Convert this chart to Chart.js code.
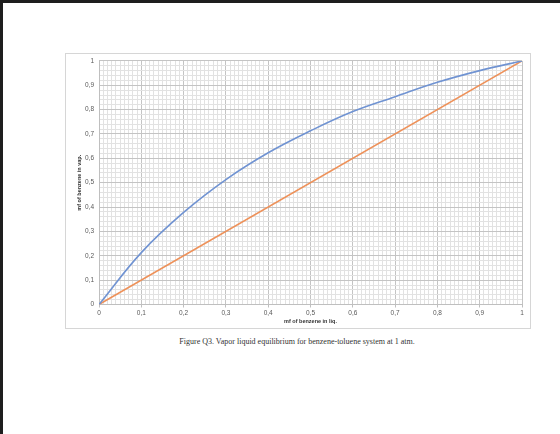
<!DOCTYPE html>
<html>
<head>
<meta charset="utf-8">
<script src="https://cdn.jsdelivr.net/npm/chart.js@4.4.1/dist/chart.umd.min.js"></script>
<style>
    body { margin: 0; background: #1e1e1e; }
    #page { position: absolute; left: 3px; top: 3px; width: 557px; height: 431px; background: #fff; }
    #box { position: absolute; left: 62px; top: 50px; width: 466px; height: 276px; border: 1px solid #d6d6d6; box-sizing: border-box; }
    #myChart { position: absolute; left: 0; top: -2px; }
    #caption { position: absolute; left: 0; width: 588px; top: 334px; text-align: center;
        font-family: "Liberation Serif", "DejaVu Serif", serif; font-size: 8px; color: #333; }
</style>
</head>
<body>
<div id="page">
    <div id="box"><canvas id="myChart" width="464" height="276"></canvas></div>
    <div id="caption">Figure Q3. Vapor liquid equilibrium for benzene-toluene system at 1 atm.</div>
</div>
<script>
// liquid mole fraction of benzene
const liquidX = [0, 0.1, 0.2, 0.3, 0.4, 0.5, 0.6, 0.7, 0.8, 0.9, 1];
// vapour mole fraction
const vapourY = [0, 0.213, 0.378, 0.513, 0.623, 0.713, 0.792, 0.853, 0.912, 0.96, 1];
// 45 degree line
const diagX = [0, 1];
const diagY = [0, 1];

const tickFont = { family: 'Liberation Sans, Arial, sans-serif', size: 6.5 };
const titleFont = { family: 'Liberation Sans, Arial, sans-serif', size: 5.5, weight: 'bold' };

function isMajor(v) {
    return Math.round(v * 100) % 10 === 0;
}

function fmt(v) {
    const r = Math.round(v * 10) / 10;
    if (r === 0) return '0';
    if (r === 1) return '1';
    return r.toFixed(1).replace('.', ',');
}

const ctx = document.getElementById('myChart').getContext('2d');

let myChart = new Chart(ctx, {
    type: 'scatter',
    data: {
        datasets: [{
            data: liquidX.map((x, i) => ({ x: x, y: vapourY[i] })),
            borderColor: '#7093d2',
            borderWidth: 1.6,
            showLine: true,
            tension: 0.4,
            pointRadius: 0
        }, {
            data: diagX.map((x, i) => ({ x: x, y: diagY[i] })),
            borderColor: '#ee9159',
            borderWidth: 1.6,
            showLine: true,
            pointRadius: 0
        }]
    },
    options: {
        responsive: false,
        animation: false,
        devicePixelRatio: 1,
        layout: { padding: { top: 1, right: 8, left: 0, bottom: 0 } },
        plugins: {
            legend: { display: false },
            tooltip: { enabled: false }
        },
        scales: {
            x: {
                type: 'linear',
                min: 0,
                max: 1,
                afterBuildTicks: function (scale) {
                    const t = [];
                    for (let i = 0; i <= 100; i++) t.push({ value: i / 100 });
                    scale.ticks = t;
                },
                afterFit: function (scale) { scale.height = 23.5; },
                ticks: {
                    autoSkip: false,
                    maxRotation: 0,
                    padding: 2,
                    color: '#595959',
                    font: tickFont,
                    callback: (v) => isMajor(v) ? fmt(v) : ''
                },
                grid: {
                    color: (c) => isMajor(c.tick.value) ? '#c4c4c4' : '#e2e2e2',
                    tickColor: (c) => isMajor(c.tick.value) ? '#bfbfbf' : 'rgba(0,0,0,0)',
                    tickLength: 3
                },
                border: { color: '#bfbfbf' },
                title: {
                    display: true,
                    text: 'mf of benzene in liq.',
                    color: '#333',
                    font: titleFont,
                    padding: { top: 0, bottom: 3 }
                }
            },
            y: {
                type: 'linear',
                min: 0,
                max: 1,
                afterBuildTicks: function (scale) {
                    const t = [];
                    for (let i = 0; i <= 50; i++) t.push({ value: i / 50 });
                    scale.ticks = t;
                },
                afterFit: function (scale) { scale.width = 33; },
                ticks: {
                    autoSkip: false,
                    padding: 5,
                    color: '#595959',
                    font: tickFont,
                    callback: (v) => isMajor(v) ? fmt(v) : ''
                },
                grid: {
                    color: (c) => isMajor(c.tick.value) ? '#c4c4c4' : '#e2e2e2',
                    drawTicks: false
                },
                border: { color: '#bfbfbf' },
                title: {
                    display: true,
                    text: 'mf of benzene in vap.',
                    color: '#333',
                    font: titleFont,
                    padding: { top: 10, bottom: 0 }
                }
            }
        }
    }
});
</script>
</body>
</html>
